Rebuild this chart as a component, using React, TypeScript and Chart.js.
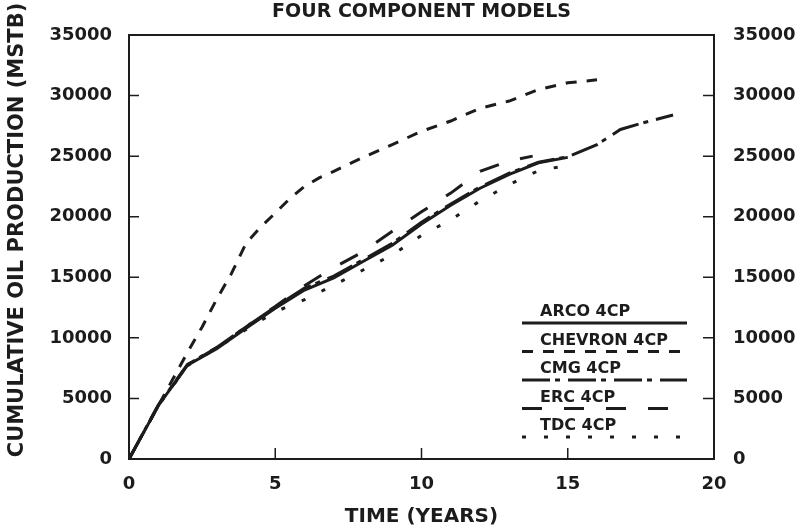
import React, { useEffect, useRef } from "react";
import { Chart, registerables } from "chart.js";

Chart.register(...registerables);

// ---- data ----
const arcoYears = [0, 1, 2, 3, 4, 5, 6, 7, 8, 9, 10, 11, 12, 13, 14, 15];
const arcoValues = [0, 4400, 7750, 9100, 10800, 12450, 13950, 14950, 16300, 17650, 19400, 20950, 22350, 23500, 24450, 24900];

const chevronYears = [0, 1, 1.5, 2, 2.5, 3, 3.5, 4, 4.5, 5, 5.5, 6, 6.5, 7, 8, 9, 10, 11, 12, 13, 14, 15, 16];
const chevronValues = [0, 4400, 6600, 8800, 10900, 13200, 15300, 17800, 19150, 20300, 21500, 22500, 23200, 23750, 24900, 25950, 27050, 27900, 28950, 29550, 30500, 31050, 31300];

const cmgYears = [0, 1, 2, 3, 4, 5, 6, 7, 8, 9, 10, 11, 12, 13, 14, 15, 16, 16.8, 17.5, 18.6];
const cmgValues = [0, 4450, 7800, 9200, 10900, 12550, 14100, 15100, 16450, 17800, 19550, 21050, 22450, 23600, 24500, 24950, 25950, 27200, 27700, 28400];

const ercYears = [0, 1, 2, 3, 4, 5, 6, 7, 8, 9, 10, 11, 12, 13, 13.8];
const ercValues = [0, 4400, 7750, 9200, 10900, 12600, 14300, 15800, 17100, 18800, 20400, 21950, 23750, 24600, 25000];

const tdcYears = [0, 1, 2, 3, 4, 5, 6, 7, 8, 9, 10, 11, 12, 13, 14, 14.9];
const tdcValues = [0, 4400, 7700, 9150, 10700, 12150, 13150, 14350, 15600, 16850, 18450, 19750, 21300, 22650, 23800, 24200];

const seriesNames = ["ARCO 4CP", "CHEVRON 4CP", "CMG 4CP", "ERC 4CP", "TDC 4CP"];

const xTicks = [0, 5, 10, 15, 20];
const yTicks = [0, 5000, 10000, 15000, 20000, 25000, 30000, 35000];

const chartTitle = "FOUR COMPONENT MODELS";
const xTitle = "TIME (YEARS)";
const yTitle = "CUMULATIVE OIL PRODUCTION (MSTB)";

// ---- styles ----
const INK = "#1c1c1c";
const FONT = "'DejaVu Sans', 'Liberation Sans', sans-serif";
const dashes: number[][] = [[], [11, 10], [28, 5, 5, 8], [20, 22], [4, 18]];

const toPoints = (xs: number[], ys: number[]) => xs.map((x, i) => ({ x, y: ys[i] }));

const framePlugin = {
  id: "framePlugin",
  afterDraw(chart: any) {
    const { ctx, chartArea: a, scales } = chart;
    ctx.save();
    ctx.strokeStyle = INK;
    ctx.fillStyle = INK;
    // frame
    ctx.lineWidth = 2;
    ctx.strokeRect(a.left, a.top, a.right - a.left, a.bottom - a.top);
    // inward ticks
    ctx.lineWidth = 1.5;
    ctx.beginPath();
    for (const v of yTicks) {
      if (v === yTicks[0] || v === yTicks[yTicks.length - 1]) continue;
      const y = scales.y.getPixelForValue(v);
      ctx.moveTo(a.left, y);
      ctx.lineTo(a.left + 10, y);
      const y2 = scales.y2.getPixelForValue(v);
      ctx.moveTo(a.right, y2);
      ctx.lineTo(a.right - 11, y2);
    }
    for (const v of xTicks) {
      if (v === xTicks[0] || v === xTicks[xTicks.length - 1]) continue;
      const x = scales.x.getPixelForValue(v);
      ctx.moveTo(x, a.bottom);
      ctx.lineTo(x, a.bottom - 11);
    }
    ctx.stroke();

    // titles
    const cx = (a.left + a.right) / 2;
    ctx.textAlign = "center";
    ctx.textBaseline = "alphabetic";
    ctx.font = `bold 19px ${FONT}`;
    ctx.fillText(chartTitle, cx, 17);
    ctx.font = `bold 20px ${FONT}`;
    ctx.fillText(xTitle, cx, 522);
    ctx.save();
    ctx.translate(23, 230);
    ctx.rotate(-Math.PI / 2);
    ctx.font = `bold 21px ${FONT}`;
    ctx.fillText(yTitle, 0, 0);
    ctx.restore();

    // legend
    ctx.textAlign = "left";
    ctx.font = `bold 16px ${FONT}`;
    chart.data.datasets.forEach((ds: any, i: number) => {
      const base = a.top + 281 + i * 28.5;
      ctx.fillText(ds.label, a.right - 174, base);
      ctx.save();
      ctx.lineWidth = 3;
      ctx.setLineDash(ds.borderDash || []);
      ctx.beginPath();
      ctx.moveTo(a.right - 192, base + 7);
      ctx.lineTo(a.right - 27, base + 7);
      ctx.stroke();
      ctx.restore();
    });
    ctx.restore();
  },
};

export default function App() {
  const canvasRef = useRef<HTMLCanvasElement | null>(null);

  useEffect(() => {
    const canvas = canvasRef.current;
    if (!canvas) return;
    const all = [
      toPoints(arcoYears, arcoValues),
      toPoints(chevronYears, chevronValues),
      toPoints(cmgYears, cmgValues),
      toPoints(ercYears, ercValues),
      toPoints(tdcYears, tdcValues),
    ];
    const tickFont = { family: FONT, size: 18, weight: "bold" as const };
    const plain = (v: any) => String(v);
    const chart = new Chart(canvas, {
      type: "line",
      data: {
        datasets: all.map((pts, i) => ({
          label: seriesNames[i],
          data: pts,
          borderColor: INK,
          backgroundColor: INK,
          borderWidth: 3,
          borderDash: dashes[i],
          pointRadius: 0,
          tension: 0,
          fill: false,
          yAxisID: "y",
        })),
      },
      options: {
        animation: false,
        responsive: false,
        maintainAspectRatio: false,
        layout: { padding: { top: 35, left: 0, right: 0, bottom: 0 } },
        plugins: {
          legend: { display: false },
          tooltip: { enabled: false },
          title: { display: false },
        },
        scales: {
          x: {
            type: "linear",
            min: xTicks[0],
            max: xTicks[xTicks.length - 1],
            afterBuildTicks: (s: any) => {
              s.ticks = xTicks.map((v) => ({ value: v }));
            },
            afterFit: (s: any) => {
              s.height = 69;
            },
            grid: { display: false, drawTicks: false },
            border: { display: false },
            ticks: { color: INK, font: tickFont, padding: 15, maxRotation: 0, callback: plain },
          },
          y: {
            type: "linear",
            position: "left",
            min: yTicks[0],
            max: yTicks[yTicks.length - 1],
            afterBuildTicks: (s: any) => {
              s.ticks = yTicks.map((v) => ({ value: v }));
            },
            afterFit: (s: any) => {
              s.width = 129;
            },
            grid: { display: false, drawTicks: false },
            border: { display: false },
            ticks: { color: INK, font: tickFont, padding: 17, callback: plain },
          },
          y2: {
            type: "linear",
            position: "right",
            min: yTicks[0],
            max: yTicks[yTicks.length - 1],
            afterBuildTicks: (s: any) => {
              s.ticks = yTicks.map((v) => ({ value: v }));
            },
            afterFit: (s: any) => {
              s.width = 88;
            },
            grid: { display: false, drawTicks: false },
            border: { display: false },
            ticks: { color: INK, font: tickFont, padding: 19, callback: plain },
          },
        },
      },
      plugins: [framePlugin],
    });
    return () => chart.destroy();
  }, []);

  return (
    <div style={{ position: "fixed", left: 0, top: 0, width: 802, height: 528, background: "#fff" }}>
      <canvas ref={canvasRef} width={802} height={528} style={{ width: 802, height: 528 }} />
    </div>
  );
}
